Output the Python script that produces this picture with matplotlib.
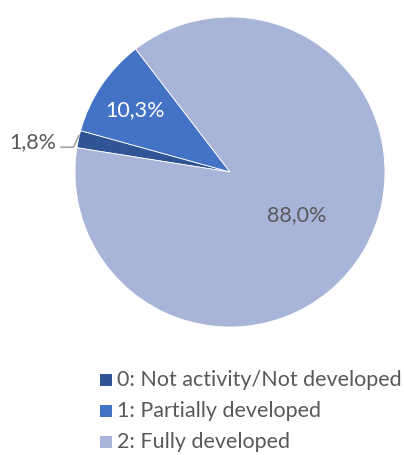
import matplotlib.pyplot as plt
from matplotlib.patches import Rectangle

# desenvolvimento das atividades
categorias = ['0: Not activity/Not developed', '1: Partially developed', '2: Fully developed']
valores = [1.8, 10.3, 88.0]
rotulos = ['1,8%', '10,3%', '88,0%']
cores = ['#2F5597', '#4472C4', '#A9B4D9']

plt.rcParams['font.family'] = ['Lato', 'DejaVu Sans']
cinza = '#595959'
fs = 15.5

fig = plt.figure(figsize=(4.04, 4.55), dpi=100)
W, H = 404, 455
cx, cy, r = 230, 172, 155
ax = fig.add_axes([(cx - r) / W, (H - cy - r) / H, 2 * r / W, 2 * r / H])

fatias, _ = ax.pie(valores, colors=cores, startangle=171, counterclock=False,
                   wedgeprops=dict(edgecolor='white', linewidth=0.6))
ax.set_xlim(-1, 1)
ax.set_ylim(-1, 1)
ax.set_aspect('equal')

# rotulos de dados
ax.text(-0.61, 0.4, rotulos[1], color='white', fontsize=fs, ha='center', va='center')
ax.text(0.43, -0.28, rotulos[2], color=cinza, fontsize=fs, ha='center', va='center')
ax.text(-1.27, 0.19, rotulos[0], color=cinza, fontsize=fs, ha='center', va='center')
# linha de chamada do rotulo pequeno
ax.plot([-1.09, -1.01, -0.975], [0.16, 0.16, 0.235], color='#A6A6A6', lw=1.2,
        clip_on=False)

# legenda
ys = [380, 411, 442]
for cat, cor, y in zip(categorias, cores, ys):
    fig.patches.append(Rectangle((100 / W, (H - y - 6) / H), 12 / W, 12 / H,
                                 facecolor=cor, transform=fig.transFigure))
    fig.text(117 / W, (H - y) / H, cat, color=cinza, fontsize=fs,
             ha='left', va='center')

fig.savefig('out.png', dpi=100)
